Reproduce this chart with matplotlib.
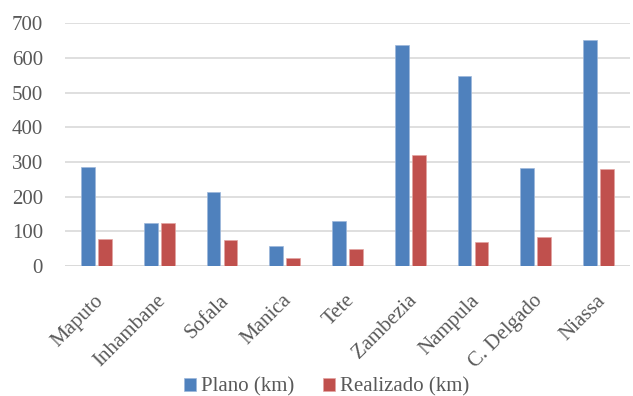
import matplotlib.pyplot as plt
import matplotlib.transforms as mtransforms
import numpy as np

# province road works, planned vs executed (km)
provinces = ['Maputo', 'Inhambane', 'Sofala', 'Manica', 'Tete',
             'Zambezia', 'Nampula', 'C. Delgado', 'Niassa']
plano = [285, 125, 215, 59, 131, 638, 549, 282, 651]
realizado = [79, 125, 74, 24, 48, 320, 69, 84, 280]

blue = '#4F81BD'
red = '#C0504D'
text_grey = '#595959'

plt.rcParams['font.family'] = ['Liberation Serif', 'DejaVu Serif']

fig = plt.figure(figsize=(6.33, 3.96), dpi=100)
ax = fig.add_axes([0.103, 0.328, 0.892, 0.613])

x = np.arange(len(provinces))
w = 0.22
ax.bar(x - w / 2 - 0.025, plano, width=w, color=blue, edgecolor='#9DB7DB',
       linewidth=0.5, label='Plano (km)', zorder=3)
ax.bar(x + w / 2 + 0.025, realizado, width=w, color=red, edgecolor='#E3A3A1',
       linewidth=0.5, label='Realizado (km)', zorder=3)

ax.set_xlim(-0.5, len(provinces) - 0.5)
ax.set_ylim(0, 700)
ax.set_yticks(range(0, 701, 100))
ax.yaxis.grid(True, color='#D9D9D9', linewidth=1.2, zorder=0)
ax.set_axisbelow(True)
for s in ax.spines.values():
    s.set_visible(False)
ax.axhline(0, color='#D9D9D9', linewidth=1.2, zorder=1)

ax.set_xticks(x)
ax.set_xticklabels(provinces, rotation=45, ha='right', rotation_mode='anchor',
                   fontsize=15, color=text_grey)
ax.tick_params(axis='x', length=0, pad=18)
ax.tick_params(axis='y', length=0, pad=16, labelsize=15, labelcolor=text_grey)

# nudge the slanted labels a touch to the left
shift = mtransforms.ScaledTranslation(-2 / 72, 0, fig.dpi_scale_trans)
for lbl in ax.get_xticklabels():
    lbl.set_transform(lbl.get_transform() + shift)

fig.legend(loc='center', bbox_to_anchor=(0.516, 0.022), ncol=2,
           frameon=False, fontsize=15, handlelength=0.55, handleheight=0.55,
           handletextpad=0.25, columnspacing=1.4, labelcolor=text_grey)

fig.savefig('out.png', dpi=100)
